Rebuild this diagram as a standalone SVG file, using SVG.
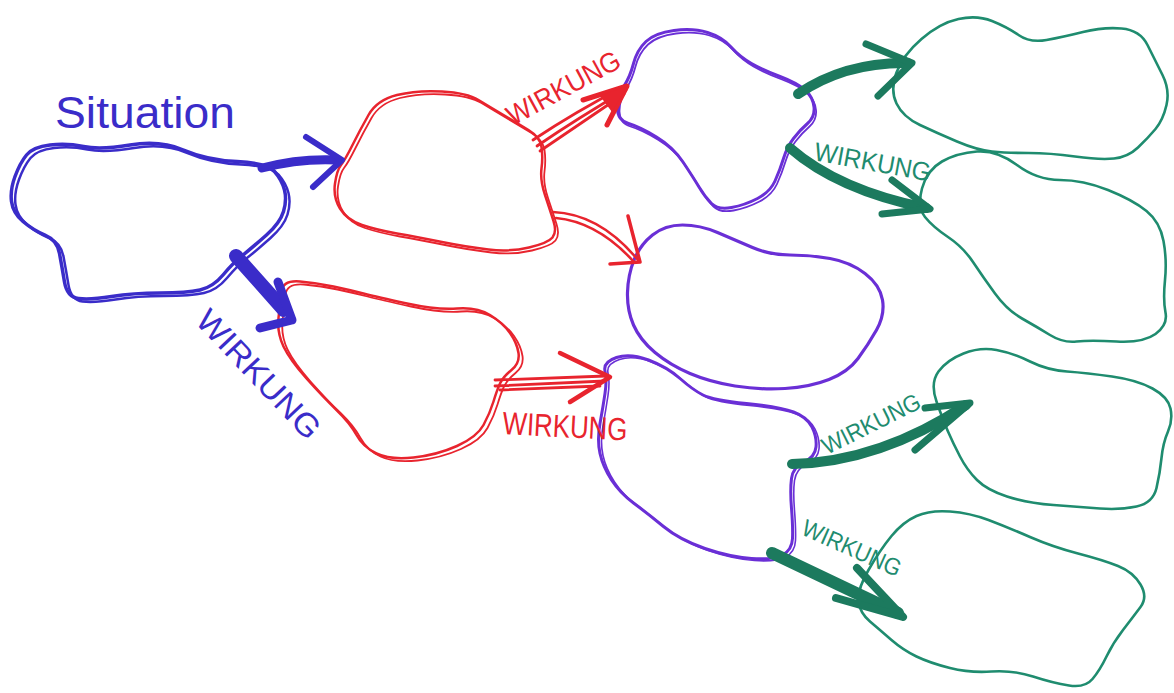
<svg xmlns="http://www.w3.org/2000/svg" xmlns:xlink="http://www.w3.org/1999/xlink" width="1174" height="693" viewBox="0 0 1174 693">
<style>
.c{fill:none;stroke-linecap:round;stroke-linejoin:round}
.bl{stroke:#3a2cc9}
.rd{stroke:#e8242e}
.pu{stroke:#6a2fd6}
.te{stroke:#1f8c6f}
.td{stroke:#1c7a5e}
.t{font-family:"Liberation Sans","DejaVu Sans",sans-serif}
.tb{fill:#3a2cc9}
.tr{fill:#e8242e}
.tt{fill:#1f8c6f}
</style>
<defs>
<path id="p-sit" d="M26.5,155 Q33,147 50,145 Q67,143 83.5,146.5 Q100,150 130,145 Q160,140 183.5,150 Q207,160 237,161.5 Q267,163 274.5,171.5 Q282,180 284.5,190 Q287,200 283.5,211.5 Q280,223 266.5,235 Q253,247 243,255 Q233,263 223,275 Q213,287 200,290 Q187,293 160,293 Q133,293 111.5,296.5 Q90,300 78.5,298.5 Q67,297 64.5,282 Q62,267 59.5,253.5 Q57,240 45,235 Q33,230 23,221.5 Q13,213 11.5,201.5 Q10,190 15,176.5 Q20,163 26.5,155 Z"/>
<path id="p-r1" d="M341,165 Q345,160 352.5,145 Q360,130 368.5,115 Q377,100 397,95 Q417,90 442,91.5 Q467,93 478.5,100 Q490,107 503.5,115 Q517,123 528.5,130 Q540,137 541.5,147 Q543,157 541.5,168.5 Q540,180 545,195 Q550,210 553.5,221 Q557,232 552.5,237.5 Q548,243 529,247.5 Q510,252 488.5,249.5 Q467,247 442,242 Q417,237 397,233.5 Q377,230 362,225 Q347,220 340,208.5 Q333,197 335,183.5 Q337,170 341,165 Z"/>
<path id="p-r2" d="M281.5,291.5 Q283,280 300,281.5 Q317,283 333.5,286.5 Q350,290 363.5,293.5 Q377,297 407,303.5 Q437,310 457,308.5 Q477,307 490,315 Q503,323 510,333 Q517,343 518.5,353 Q520,363 511.5,370 Q503,377 500,383.5 Q497,390 493.5,401.5 Q490,413 483.5,425 Q477,437 457,446 Q437,455 413.5,457.5 Q390,460 376.5,453.5 Q363,447 356.5,435 Q350,423 336.5,410 Q323,397 306.5,378.5 Q290,360 283.5,346.5 Q277,333 278.5,318 Q280,303 281.5,291.5 Z"/>
<path id="p-pa" d="M624,86 Q630,77 633.5,63.5 Q637,50 646,41.5 Q655,33 674,30.5 Q693,28 707.5,32.5 Q722,37 731,47 Q740,57 751.5,63.5 Q763,70 780,76.5 Q797,83 805,90 Q813,97 814,107 Q815,117 807.5,123.5 Q800,130 793.5,138.5 Q787,147 783.5,158.5 Q780,170 775,181 Q770,192 757.5,198.5 Q745,205 731.5,207.5 Q718,210 711.5,203.5 Q705,197 699,187 Q693,177 683,162 Q673,147 656.5,137 Q640,127 628.5,123.5 Q617,120 617.5,107.5 Q618,95 624,86 Z"/>
<path id="p-pc" d="M605,371 Q603,362 616.5,357.5 Q630,353 648.5,360 Q667,367 680,378.5 Q693,390 703,395 Q713,400 746.5,403.5 Q780,407 793.5,412 Q807,417 812,427 Q817,437 816,447 Q815,457 804,462 Q793,467 791.5,478.5 Q790,490 791.5,508.5 Q793,527 792.5,538.5 Q792,550 782.5,555 Q773,560 751.5,558.5 Q730,557 705,548.5 Q680,540 663.5,526.5 Q647,513 633.5,503 Q620,493 611.5,480 Q603,467 600,453.5 Q597,440 600,423.5 Q603,407 605,393.5 Q607,380 605,371 Z"/>
</defs>

<g id="node-situation">
<use xlink:href="#p-sit" class="c bl" stroke-width="3.5"/>
<use xlink:href="#p-sit" class="c bl" stroke-width="2.5" transform="translate(4,3)"/>
<text class="t tb" x="55" y="128" font-size="44" textLength="180" lengthAdjust="spacingAndGlyphs">Situation</text>
</g>

<g id="node-red1">
<use xlink:href="#p-r1" class="c rd" stroke-width="2.5"/>
<use xlink:href="#p-r1" class="c rd" stroke-width="1.8" transform="translate(3,3)"/>
</g>

<g id="node-red2">
<use xlink:href="#p-r2" class="c rd" stroke-width="2.5"/>
<use xlink:href="#p-r2" class="c rd" stroke-width="1.8" transform="translate(4,3)"/>
</g>

<g id="node-purple-a">
<use xlink:href="#p-pa" class="c pu" stroke-width="3"/>
<use xlink:href="#p-pa" class="c pu" stroke-width="1.8" transform="translate(2,3)"/>
</g>

<g id="node-purple-b">
<path class="c pu" stroke-width="3.2" d="M634,260 Q640,245 652.5,235 Q665,225 682.5,225 Q700,225 717.5,232.5 Q735,240 752.5,247.5 Q770,255 790,255 Q810,255 830,258.5 Q850,262 865,273.5 Q880,285 882.5,300 Q885,315 876.5,330 Q868,345 858,358.5 Q848,372 829,379.5 Q810,387 785,388.5 Q760,390 735,386 Q710,382 690,373.5 Q670,365 655,352.5 Q640,340 633.5,325 Q627,310 627.5,292.5 Q628,275 634,260 Z"/>
</g>

<g id="node-purple-c">
<use xlink:href="#p-pc" class="c pu" stroke-width="3"/>
<use xlink:href="#p-pc" class="c pu" stroke-width="1.6" transform="translate(3,2)"/>
</g>

<g id="node-teal-1">
<path class="c te" stroke-width="2.6" d="M896.5,103.5 Q890,90 896.5,72.5 Q903,55 921.5,39 Q940,23 958.5,19 Q977,15 992,21 Q1007,27 1018.5,35 Q1030,43 1046.5,40 Q1063,37 1083,32 Q1103,27 1121.5,28.5 Q1140,30 1147.5,45 Q1155,60 1162.5,75 Q1170,90 1166.5,105 Q1163,120 1155.5,129 Q1148,138 1138,147.5 Q1128,157 1114,158.5 Q1100,160 1075,156.5 Q1050,153 1028.5,153 Q1007,153 992,151.5 Q977,150 957,141.5 Q937,133 920,125 Q903,117 896.5,103.5 Z"/>
</g>

<g id="node-teal-2">
<path class="c te" stroke-width="2.6" d="M925,217 Q917,207 922,188.5 Q927,170 942,161.5 Q957,153 977,151.5 Q997,150 1017,165 Q1037,180 1060,180 Q1083,180 1108,190 Q1133,200 1146.5,211 Q1160,222 1163.5,241 Q1167,260 1165,280 Q1163,300 1165.5,312.5 Q1168,325 1155.5,334 Q1143,343 1116.5,341.5 Q1090,340 1076.5,341.5 Q1063,343 1050,335 Q1037,327 1022,318.5 Q1007,310 995,293.5 Q983,277 973,262 Q963,247 948,237 Q933,227 925,217 Z"/>
</g>

<g id="node-teal-3">
<path class="c te" stroke-width="2.6" d="M936.5,401.5 Q930,383 938.5,371.5 Q947,360 963.5,353.5 Q980,347 996.5,350 Q1013,353 1030,361.5 Q1047,370 1067,371.5 Q1087,373 1112,376.5 Q1137,380 1152.5,388.5 Q1168,397 1170.5,408.5 Q1173,420 1168,431.5 Q1163,443 1161.5,458 Q1160,473 1156.5,488 Q1153,503 1136.5,506.5 Q1120,510 1100,508.5 Q1080,507 1053.5,505 Q1027,503 1007,496.5 Q987,490 977,480 Q967,470 960,456.5 Q953,443 948,431.5 Q943,420 936.5,401.5 Z"/>
</g>

<g id="node-teal-4">
<path class="c te" stroke-width="2.6" d="M868.5,570 Q880,550 891.5,536 Q903,522 916.5,516 Q930,510 950,511.5 Q970,513 988.5,520 Q1007,527 1030,537 Q1053,547 1078,553.5 Q1103,560 1118,566 Q1133,572 1140.5,584.5 Q1148,597 1140.5,607 Q1133,617 1123,630 Q1113,643 1106.5,656.5 Q1100,670 1092.5,679 Q1085,688 1069,685.5 Q1053,683 1033,676.5 Q1013,670 991.5,671.5 Q970,673 950,668 Q930,663 916.5,656.5 Q903,650 891.5,640 Q880,630 870,621.5 Q860,613 858.5,601.5 Q857,590 868.5,570 Z"/>
</g>

<g id="connectors">
<!-- blue: situation -> red1 -->
<path class="c bl" stroke-width="9" d="M262,168 Q300,158 338,160"/>
<path class="c bl" stroke-width="6" d="M306,137 L342,160 L313,187"/>
<!-- blue: situation -> red2 -->
<path class="c bl" stroke-width="14" d="M236,256 L284,310"/>
<path class="c bl" stroke-width="9" d="M278,282 L292,320 L260,328"/>
<text class="t tb" font-size="32" transform="translate(194,322) rotate(46.5)" textLength="165" lengthAdjust="spacingAndGlyphs">WIRKUNG</text>

<!-- red1 -> purple A -->
<path class="c rd" stroke-width="2.8" d="M533,140 Q575,112 625,86 M537,146 Q578,118 626,90 M540,151 Q580,124 624,94"/>
<path class="c rd" stroke-width="5" d="M583,100 L627,86 L607,125"/>
<path fill="#e8242e" d="M627,86 L600,96 L612,112 Z"/>
<text class="t tr" font-size="28" transform="translate(513,126) rotate(-28.5)" textLength="125" lengthAdjust="spacingAndGlyphs">WIRKUNG</text>
<!-- red1 -> purple B -->
<path class="c rd" stroke-width="2.6" d="M553,212 Q600,214 638,260 M556,218 Q598,222 634,262"/>
<path class="c rd" stroke-width="3.5" d="M628,216 L640,262 L610,264"/>
<!-- red2 -> purple C -->
<path class="c rd" stroke-width="2.8" d="M495,380 L606,376 M495,386 L605,381 M500,390 L600,386"/>
<path class="c rd" stroke-width="4.5" d="M560,353 L610,377 L570,402"/>
<text class="t tr" font-size="32" transform="translate(502,434) rotate(3)" textLength="125" lengthAdjust="spacingAndGlyphs">WIRKUNG</text>

<!-- purple A -> teal 1 -->
<path class="c td" stroke-width="10" d="M798,94 Q845,62 908,63"/>
<path class="c td" stroke-width="7" d="M866,44 L912,63 L878,96"/>
<!-- purple A -> teal 2 -->
<path class="c td" stroke-width="10" d="M790,148 Q838,190 926,208"/>
<path class="c td" stroke-width="7" d="M892,180 L930,209 L882,214"/>
<text class="t tt" font-size="26" transform="translate(813,160) rotate(10.5)" textLength="118" lengthAdjust="spacingAndGlyphs">WIRKUNG</text>

<!-- purple C -> teal 3 -->
<path class="c td" stroke-width="10" d="M792,464 Q880,462 966,405"/>
<path class="c td" stroke-width="7" d="M925,408 L970,403 L915,450"/>
<text class="t tt" font-size="24" transform="translate(827,455) rotate(-26.5)" textLength="107" lengthAdjust="spacingAndGlyphs">WIRKUNG</text>
<!-- purple C -> teal 4 -->
<path class="c td" stroke-width="12" d="M772,553 L898,613"/>
<path class="c td" stroke-width="8" d="M857,568 L903,617 L836,598"/>
<text class="t tt" font-size="24" transform="translate(800,534) rotate(24)" textLength="106" lengthAdjust="spacingAndGlyphs">WIRKUNG</text>
</g>
</svg>
